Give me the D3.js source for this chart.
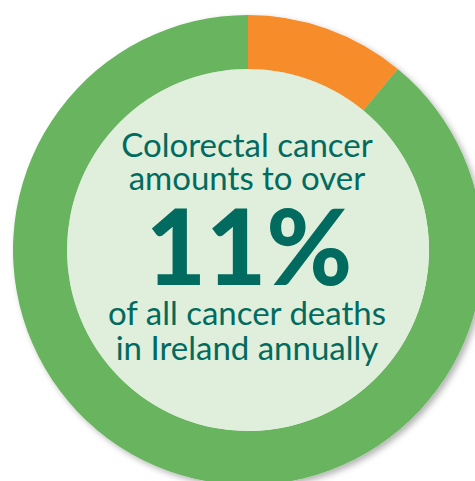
<!DOCTYPE html>
<html>
<head>
<meta charset="utf-8">
<script src="https://cdn.jsdelivr.net/npm/d3@7"></script>
<style>
  body { margin: 0; background: #fff; }
  svg { display: block; }
</style>
</head>
<body>
<script>
var labels = ['Colorectal cancer', 'Other cancers'];
var values = [11, 89];
var colors = ['#f68d2b', '#69b45e'];
var topLines = ['Colorectal cancer', 'amounts to over'];
var bigText = '11%';
var bottomLines = ['of all cancer deaths', 'in Ireland annually'];

var width = 475,
	height = 481;

var cx = 248, cy = 250,
	outer = 235, inner = 181;

var svg = d3.select('body').append('svg')
	.attr('width', width)
	.attr('height', height);

var defs = svg.append('defs');
defs.append('filter')
	.attr('id', 'shadow')
	.attr('x', '-10%').attr('y', '-10%')
	.attr('width', '120%').attr('height', '120%')
	.append('feDropShadow')
	.attr('dx', 3).attr('dy', 3)
	.attr('stdDeviation', 3)
	.attr('flood-color', '#000')
	.attr('flood-opacity', 0.3);

var g = svg.append('g')
	.attr('transform', 'translate(' + cx + ',' + cy + ')');

var pie = d3.pie().sort(null)(values);
var arc = d3.arc().innerRadius(inner).outerRadius(outer);

var ring = g.append('g').attr('filter', 'url(#shadow)');
ring.selectAll('path')
	.data(pie)
	.enter().append('path')
	.attr('d', arc)
	.attr('fill', function (d, i) { return colors[i]; });

g.append('circle')
	.attr('r', inner)
	.attr('fill', '#e0eedc');

var ink = '#006b5e';
var font = 'Lato, "Open Sans", sans-serif';

// small lines: baseline y relative to centre
var smallBase = [157, 190];
topLines.forEach(function (t, i) {
	g.append('text')
		.attr('x', -1)
		.attr('y', smallBase[i] - cy)
		.attr('text-anchor', 'middle')
		.attr('font-family', font)
		.attr('font-size', 33)
		.attr('fill', ink)
		.text(t);
});

g.append('text')
	.attr('x', 1)
	.attr('y', 285 - cy)
	.attr('text-anchor', 'middle')
	.attr('font-family', font)
	.attr('font-weight', 900)
	.attr('font-size', 104)
	.attr('fill', ink)
	.text(bigText);

var lowBase = [325, 360];
bottomLines.forEach(function (t, i) {
	g.append('text')
		.attr('x', -1)
		.attr('y', lowBase[i] - cy)
		.attr('text-anchor', 'middle')
		.attr('font-family', font)
		.attr('font-size', 33)
		.attr('fill', ink)
		.text(t);
});
</script>
</body>
</html>
